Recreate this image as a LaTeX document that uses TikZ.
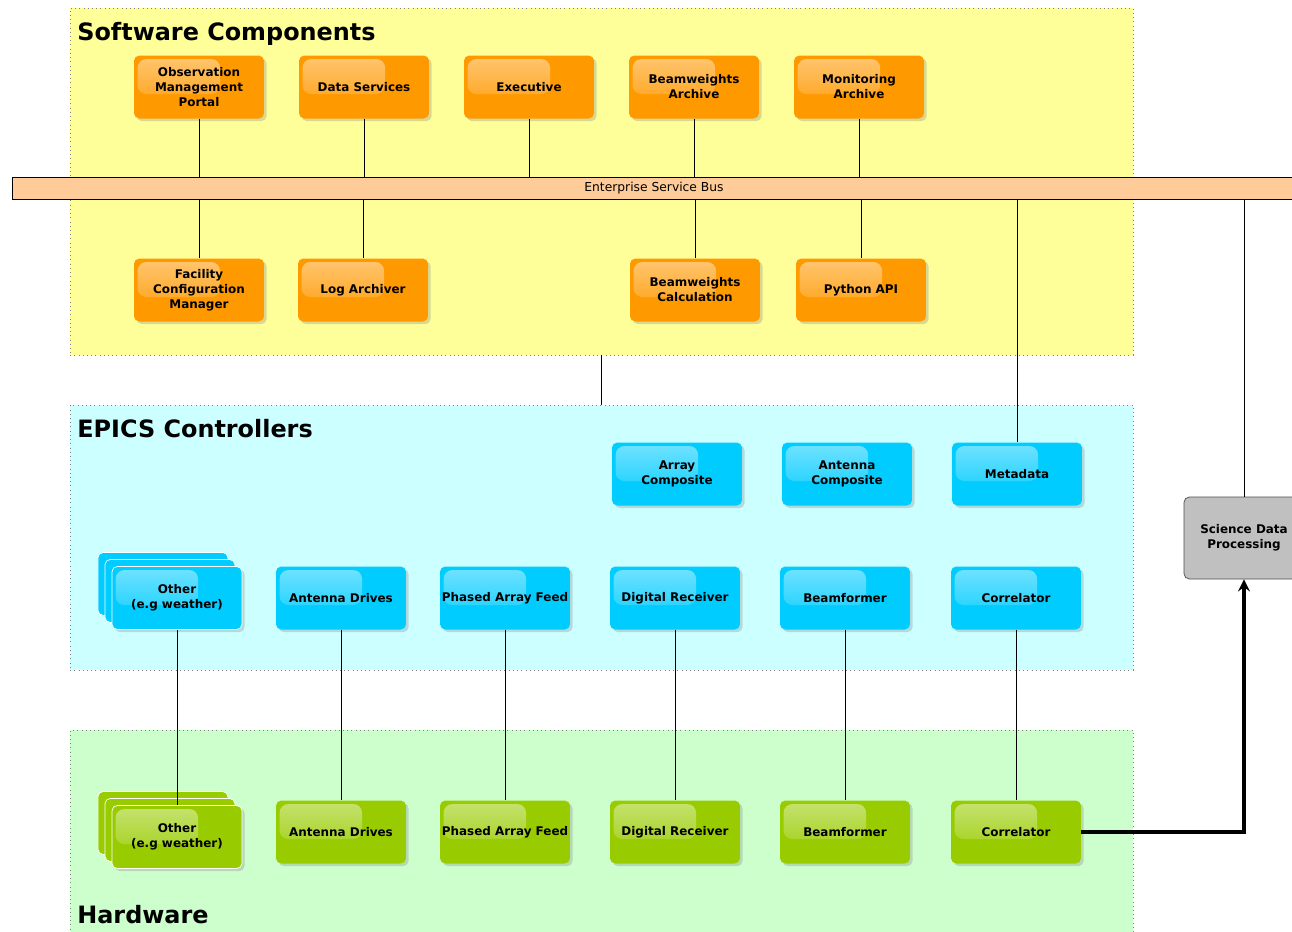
\documentclass[tikz,border=0pt]{standalone}
\usepackage{fontspec}
\setmainfont{DejaVu Sans}
\usepackage{tikz}
\usetikzlibrary{arrows,positioning,shadows,fadings}

\definecolor{swyellow}{HTML}{FFFF99}
\definecolor{epicscyan}{HTML}{CCFFFF}
\definecolor{hwgreen}{HTML}{CCFFCC}
\definecolor{buspeach}{HTML}{FFCC99}
\definecolor{comporange}{HTML}{FF9900}
\definecolor{ctrlblue}{HTML}{00CCFF}
\definecolor{hwlime}{HTML}{99CC00}
\definecolor{sdpgray}{HTML}{C0C0C0}

\begin{document}
\begin{tikzpicture}[
  x=0.02cm, y=-0.02cm,
  every node/.style={font=\fontsize{6.8}{8.5}\selectfont\bfseries, align=center, inner sep=1pt},
  region/.style={draw=gray, dotted, inner sep=0pt, outer sep=0pt, minimum width=21.26cm},
  grouptitle/.style={anchor=base west, inner sep=0pt, font=\fontsize{13.6}{16}\selectfont\bfseries},
  gloss/.style={path picture={\fill[white, opacity=0.45, path fading=south, rounded corners=5pt]
    ([shift={(2pt,-2pt)}]path picture bounding box.north west) rectangle
    ([shift={(12pt,-4pt)}]path picture bounding box.center);}},
  comp/.style={rounded corners=3pt, minimum width=2.6cm, minimum height=1.26cm,
    drop shadow={shadow xshift=1.5pt, shadow yshift=-1.5pt, opacity=0.3}, gloss},
  swnode/.style={comp, fill=comporange},
  ctrlnode/.style={comp, fill=ctrlblue},
  hwnode/.style={comp, fill=hwlime},
  stacked/.style={draw=white, double copy shadow={shadow xshift=-4pt, shadow yshift=4pt}},
  bus/.style={draw, fill=buspeach, minimum width=25.68cm, minimum height=0.44cm, font=\fontsize{7}{8}\selectfont},
  sdpbox/.style={draw=black!70, fill=sdpgray, rounded corners=3pt, minimum width=2.4cm, minimum height=1.64cm},
  link/.style={draw, thin}
]
\useasboundingbox (0,0) rectangle (1292,931);

% layers
\node[region, fill=swyellow, minimum height=6.94cm] (swbox) at (601.5,181.5) {};
\node[region, fill=epicscyan, minimum height=5.3cm] (epicsbox) at (601.5,537.5) {};
\node[region, fill=hwgreen, minimum height=4.2cm] (hwbox) at (601.5,835) {};
\node[grouptitle] (swtitle) at (77,40) {Software Components};
\node[grouptitle] (epicstitle) at (77,437) {EPICS Controllers};
\node[grouptitle] (hwtitle) at (77,923) {Hardware};

% bus
\node[bus] (esb) at (654,188) {Enterprise Service Bus};

% software components
\node[swnode] (obsportal) at (199,87) {Observation\\Management\\Portal};
\node[swnode] (datasvc) at (364,87) {Data Services};
\node[swnode] (executive) at (529,87) {Executive};
\node[swnode] (bwarchive) at (694,87) {Beamweights\\Archive};
\node[swnode] (monarchive) at (859,87) {Monitoring\\Archive};
\node[swnode] (facconfig) at (199,290) {Facility\\Configuration\\Manager};
\node[swnode] (logarch) at (363,290) {Log Archiver};
\node[swnode] (bwcalc) at (695,290) {Beamweights\\Calculation};
\node[swnode] (pyapi) at (861,290) {Python API};

% epics controllers
\node[ctrlnode] (arraycomp) at (677,474) {Array\\Composite};
\node[ctrlnode] (antcomp) at (847,474) {Antenna\\Composite};
\node[ctrlnode] (metadata) at (1017,474) {Metadata};
\node[ctrlnode, stacked] (otherc) at (177,598) {Other\\(e.g weather)};
\node[ctrlnode] (antdrivesc) at (341,598) {Antenna Drives};
\node[ctrlnode] (pafc) at (505,598) {Phased Array Feed};
\node[ctrlnode] (digrxc) at (675,598) {Digital Receiver};
\node[ctrlnode] (beamfc) at (845,598) {Beamformer};
\node[ctrlnode] (corrc) at (1016,598) {Correlator};

% hardware
\node[hwnode, stacked] (otherh) at (177,837) {Other\\(e.g weather)};
\node[hwnode] (antdrivesh) at (341,832) {Antenna Drives};
\node[hwnode] (pafh) at (505,832) {Phased Array Feed};
\node[hwnode] (digrxh) at (675,832) {Digital Receiver};
\node[hwnode] (beamfh) at (845,832) {Beamformer};
\node[hwnode] (corrh) at (1016,832) {Correlator};

\node[sdpbox] (sdp) at (1244,538) {Science Data\\Processing};

% connections
\foreach \n in {obsportal,datasvc,executive,bwarchive,monarchive}
  \draw[link] (\n) -- (\n |- esb.north);
\foreach \n in {facconfig,logarch,bwcalc,pyapi,metadata,sdp}
  \draw[link] (\n) -- (\n |- esb.south);
\draw[link] (swbox) -- (epicsbox);
\draw[link] (otherc) -- (otherh);
\draw[link] (antdrivesc) -- (antdrivesh);
\draw[link] (pafc) -- (pafh);
\draw[link] (digrxc) -- (digrxh);
\draw[link] (beamfc) -- (beamfh);
\draw[link] (corrc) -- (corrh);
\draw[line width=2pt, ->, >=stealth] (corrh) -| (sdp);
\end{tikzpicture}
\end{document}
